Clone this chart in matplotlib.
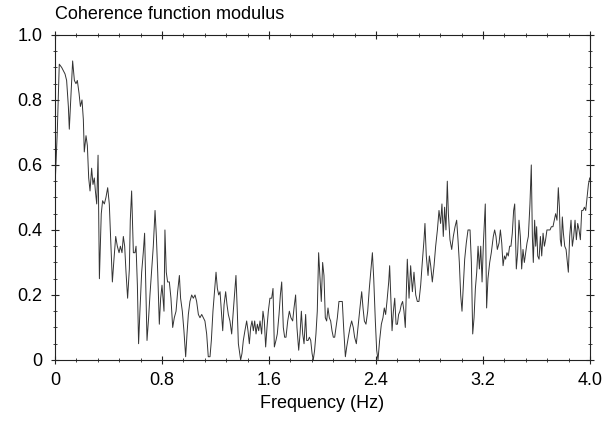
import matplotlib
matplotlib.use("Agg")
import matplotlib.pyplot as plt
from matplotlib.ticker import MultipleLocator

plt.rcParams['font.family'] = ['Liberation Sans', 'DejaVu Sans']

freq_hz = [
    0.000, 0.017, 0.032, 0.050, 0.075, 0.087, 0.100, 0.107, 0.120, 0.132,
    0.145, 0.157, 0.167, 0.180, 0.190, 0.202, 0.212, 0.219, 0.232, 0.242,
    0.252, 0.262, 0.274, 0.284, 0.294, 0.302, 0.312, 0.322, 0.332, 0.346,
    0.356, 0.369, 0.381, 0.394, 0.406, 0.419, 0.429, 0.441, 0.454, 0.466,
    0.479, 0.489, 0.501, 0.511, 0.521, 0.531, 0.543, 0.556, 0.563, 0.573,
    0.586, 0.598, 0.606, 0.616, 0.625, 0.635, 0.648, 0.660, 0.670, 0.680,
    0.688, 0.700, 0.710, 0.723, 0.735, 0.748, 0.758, 0.768, 0.780, 0.790,
    0.800, 0.815, 0.822, 0.832, 0.842, 0.855, 0.867, 0.880, 0.892, 0.905,
    0.917, 0.930, 0.939, 0.952, 0.964, 0.977, 0.987, 0.997, 1.009, 1.022,
    1.034, 1.047, 1.059, 1.072, 1.084, 1.097, 1.109, 1.121, 1.134, 1.146,
    1.159, 1.169, 1.181, 1.194, 1.204, 1.214, 1.224, 1.234, 1.254, 1.264,
    1.276, 1.286, 1.296, 1.308, 1.321, 1.333, 1.346, 1.353, 1.363, 1.371,
    1.378, 1.388, 1.398, 1.408, 1.420, 1.433, 1.443, 1.453, 1.463, 1.473,
    1.483, 1.493, 1.503, 1.513, 1.523, 1.533, 1.545, 1.555, 1.565, 1.575,
    1.585, 1.595, 1.607, 1.620, 1.630, 1.640, 1.652, 1.662, 1.675, 1.685,
    1.695, 1.707, 1.717, 1.727, 1.740, 1.752, 1.764, 1.777, 1.787, 1.799,
    1.809, 1.822, 1.832, 1.842, 1.852, 1.862, 1.874, 1.882, 1.892, 1.902,
    1.912, 1.922, 1.931, 1.941, 1.951, 1.961, 1.971, 1.991, 2.001, 2.011,
    2.021, 2.031, 2.041, 2.051, 2.061, 2.071, 2.081, 2.091, 2.101, 2.111,
    2.123, 2.136, 2.148, 2.158, 2.171, 2.181, 2.193, 2.206, 2.218, 2.230,
    2.240, 2.253, 2.265, 2.280, 2.293, 2.303, 2.313, 2.325, 2.338, 2.350,
    2.363, 2.373, 2.383, 2.395, 2.405, 2.415, 2.427, 2.440, 2.452, 2.462,
    2.472, 2.482, 2.495, 2.502, 2.512, 2.520, 2.530, 2.540, 2.550, 2.560,
    2.569, 2.579, 2.589, 2.599, 2.609, 2.619, 2.634, 2.647, 2.659, 2.672,
    2.684, 2.697, 2.709, 2.721, 2.734, 2.746, 2.759, 2.766, 2.776, 2.789,
    2.799, 2.809, 2.821, 2.834, 2.846, 2.859, 2.871, 2.883, 2.893, 2.903,
    2.913, 2.923, 2.933, 2.941, 2.953, 2.966, 2.978, 2.991, 3.003, 3.013,
    3.023, 3.033, 3.043, 3.053, 3.063, 3.075, 3.088, 3.103, 3.113, 3.123,
    3.133, 3.143, 3.153, 3.163, 3.173, 3.183, 3.193, 3.203, 3.217, 3.227,
    3.237, 3.250, 3.262, 3.277, 3.287, 3.297, 3.307, 3.320, 3.330, 3.340,
    3.350, 3.360, 3.369, 3.379, 3.389, 3.399, 3.409, 3.419, 3.429, 3.437,
    3.449, 3.459, 3.469, 3.479, 3.489, 3.499, 3.509, 3.519, 3.529, 3.539,
    3.551, 3.561, 3.569, 3.576, 3.586, 3.594, 3.601, 3.609, 3.619, 3.629,
    3.639, 3.649, 3.659, 3.668, 3.678, 3.691, 3.701, 3.711, 3.723, 3.733,
    3.743, 3.753, 3.763, 3.771, 3.778, 3.786, 3.793, 3.801, 3.811, 3.821,
    3.831, 3.838, 3.848, 3.858, 3.868, 3.878, 3.888, 3.898, 3.908, 3.918,
    3.928, 3.938, 3.948, 3.958, 3.968, 3.978, 3.988, 3.998,
]

coherence = [
    0.53, 0.70, 0.91, 0.90, 0.88, 0.86, 0.78, 0.71, 0.82, 0.92,
    0.86, 0.85, 0.86, 0.82, 0.78, 0.80, 0.74, 0.64, 0.69, 0.66,
    0.56, 0.52, 0.59, 0.54, 0.56, 0.52, 0.48, 0.63, 0.25, 0.45,
    0.49, 0.48, 0.50, 0.53, 0.48, 0.34, 0.24, 0.31, 0.38, 0.35,
    0.33, 0.35, 0.33, 0.38, 0.35, 0.27, 0.19, 0.28, 0.43, 0.52,
    0.33, 0.33, 0.35, 0.23, 0.05, 0.15, 0.27, 0.33, 0.39, 0.20,
    0.06, 0.13, 0.20, 0.28, 0.35, 0.46, 0.38, 0.27, 0.11, 0.19,
    0.23, 0.15, 0.40, 0.27, 0.24, 0.24, 0.19, 0.10, 0.13, 0.15,
    0.21, 0.26, 0.19, 0.15, 0.09, 0.01, 0.08, 0.14, 0.18, 0.20,
    0.19, 0.20, 0.18, 0.14, 0.13, 0.14, 0.13, 0.12, 0.08, 0.01,
    0.01, 0.06, 0.15, 0.22, 0.27, 0.22, 0.20, 0.21, 0.09, 0.17,
    0.21, 0.17, 0.14, 0.12, 0.08, 0.15, 0.22, 0.26, 0.15, 0.05,
    0.03, 0.00, 0.02, 0.06, 0.09, 0.12, 0.09, 0.05, 0.10, 0.12,
    0.09, 0.12, 0.08, 0.11, 0.09, 0.12, 0.08, 0.15, 0.12, 0.04,
    0.10, 0.15, 0.19, 0.19, 0.22, 0.04, 0.06, 0.08, 0.14, 0.20,
    0.24, 0.10, 0.07, 0.07, 0.12, 0.15, 0.13, 0.12, 0.16, 0.20,
    0.10, 0.03, 0.08, 0.15, 0.08, 0.05, 0.14, 0.06, 0.06, 0.07,
    0.06, 0.02, 0.00, 0.03, 0.08, 0.15, 0.33, 0.18, 0.30, 0.26,
    0.13, 0.12, 0.16, 0.13, 0.12, 0.09, 0.07, 0.07, 0.10, 0.13,
    0.18, 0.18, 0.18, 0.10, 0.01, 0.04, 0.07, 0.10, 0.12, 0.10,
    0.07, 0.05, 0.10, 0.16, 0.21, 0.16, 0.12, 0.11, 0.15, 0.22,
    0.28, 0.33, 0.25, 0.12, 0.03, 0.00, 0.06, 0.11, 0.13, 0.16,
    0.14, 0.18, 0.24, 0.29, 0.18, 0.09, 0.15, 0.19, 0.11, 0.11,
    0.14, 0.15, 0.17, 0.18, 0.15, 0.10, 0.31, 0.19, 0.29, 0.21,
    0.27, 0.20, 0.18, 0.18, 0.23, 0.30, 0.37, 0.42, 0.32, 0.26,
    0.32, 0.29, 0.24, 0.29, 0.35, 0.40, 0.46, 0.42, 0.48, 0.38,
    0.47, 0.40, 0.55, 0.45, 0.37, 0.34, 0.38, 0.41, 0.43, 0.37,
    0.30, 0.20, 0.15, 0.23, 0.31, 0.36, 0.40, 0.40, 0.30, 0.08,
    0.13, 0.22, 0.27, 0.35, 0.28, 0.35, 0.24, 0.36, 0.48, 0.16,
    0.25, 0.30, 0.33, 0.38, 0.40, 0.38, 0.34, 0.36, 0.40, 0.36,
    0.29, 0.32, 0.31, 0.33, 0.32, 0.35, 0.35, 0.39, 0.46, 0.48,
    0.28, 0.33, 0.43, 0.38, 0.28, 0.34, 0.30, 0.33, 0.36, 0.38,
    0.48, 0.60, 0.38, 0.30, 0.43, 0.35, 0.41, 0.32, 0.31, 0.38,
    0.32, 0.39, 0.35, 0.37, 0.40, 0.40, 0.40, 0.41, 0.41, 0.43,
    0.45, 0.43, 0.53, 0.47, 0.37, 0.35, 0.44, 0.39, 0.35, 0.34,
    0.30, 0.27, 0.38, 0.43, 0.35, 0.38, 0.43, 0.37, 0.42, 0.40,
    0.37, 0.46, 0.46, 0.47, 0.46, 0.50, 0.54, 0.56,
]

x_ticks = [0, 0.8, 1.6, 2.4, 3.2, 4.0]
x_tick_labels = ["0", "0.8", "1.6", "2.4", "3.2", "4.0"]
y_ticks = [0, 0.2, 0.4, 0.6, 0.8, 1.0]
y_tick_labels = ["0", "0.2", "0.4", "0.6", "0.8", "1.0"]

fig = plt.figure(figsize=(6.13, 4.26), dpi=100)
ax = fig.add_axes([0.0897, 0.155, 0.8728, 0.763])
ax.plot(freq_hz, coherence, color="#333333", linewidth=0.7)

ax.set_xlim(0, 4.0)
ax.set_ylim(0, 1.0)
ax.set_xticks(x_ticks)
ax.set_xticklabels(x_tick_labels)
ax.set_yticks(y_ticks)
ax.set_yticklabels(y_tick_labels)
ax.xaxis.set_minor_locator(MultipleLocator(0.16))
ax.yaxis.set_minor_locator(MultipleLocator(0.05))
ax.tick_params(which="both", direction="inout", top=True, right=True,
               labelsize=13, color="#222222")
ax.tick_params(which="major", length=6, width=0.8)
ax.tick_params(which="minor", length=3, width=0.6)
ax.tick_params(axis="x", which="major", pad=6)
ax.tick_params(axis="y", which="major", pad=6)
for s in ax.spines.values():
    s.set_linewidth(0.8)
    s.set_color("#222222")

ax.set_xlabel("Frequency (Hz)", fontsize=13, labelpad=4)
fig.text(0.0897, 0.965, "Coherence function modulus", fontsize=13,
         ha="left", va="center")

fig.savefig("out.png", dpi=100)
